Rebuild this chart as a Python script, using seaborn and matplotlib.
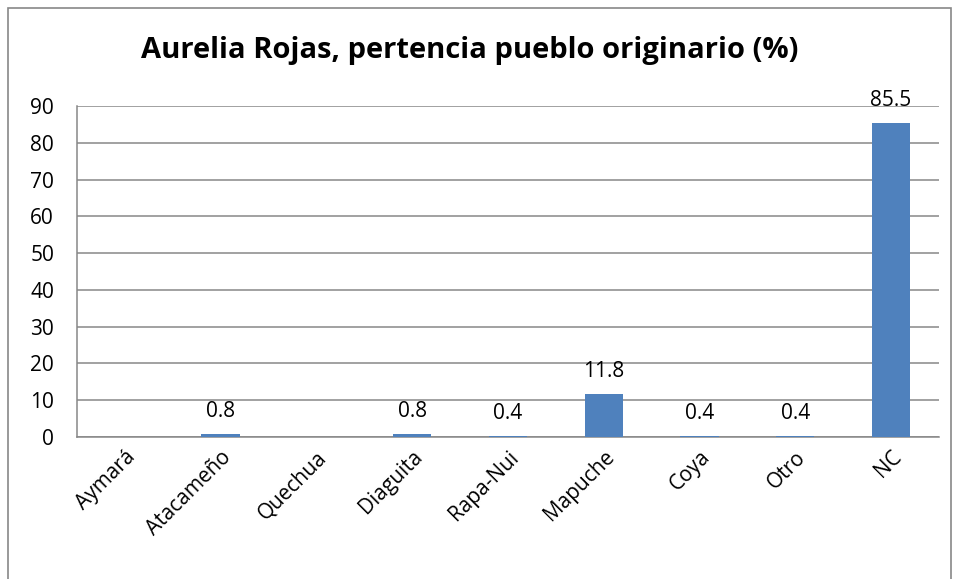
import numpy as np
import pandas as pd
import matplotlib
matplotlib.use("Agg")
import matplotlib.pyplot as plt
import seaborn as sns
from matplotlib.patches import Rectangle

# Data (Aymará and Quechua have no value)
categories = ["Aymará", "Atacameño", "Quechua", "Diaguita", "Rapa-Nui",
              "Mapuche", "Coya", "Otro", "NC"]
values = [np.nan, 0.8, np.nan, 0.8, 0.4, 11.8, 0.4, 0.4, 85.5]
y_ticks = [0, 10, 20, 30, 40, 50, 60, 70, 80, 90]
title = "Aurelia Rojas, pertencia pueblo originario (%)"

df = pd.DataFrame({"pueblo": categories, "pct": values})

sns.set_style("white")
plt.rcParams["font.family"] = ["Open Sans", "DejaVu Sans"]
plt.rcParams["text.color"] = "black"
plt.rcParams["xtick.color"] = "black"
plt.rcParams["ytick.color"] = "black"

fig = plt.figure(figsize=(9.59, 5.79), dpi=100)
ax = fig.add_axes([0.0803, 0.2453, 0.8987, 0.5717])

sns.barplot(data=df, x="pueblo", y="pct", color="#4F81BD", width=0.4,
            saturation=1, linewidth=0, ax=ax, zorder=3)

ax.set_ylim(0, 90)
ax.set_yticks(y_ticks)
ax.set_xlim(-0.5, len(categories) - 0.5)
ax.grid(axis="y", color="#878787", linewidth=1.1, zorder=0)
ax.set_axisbelow(True)

for i, v in enumerate(values):
    if not np.isnan(v):
        ax.annotate(f"{v:.1f}", (i, v), xytext=(0, 12), textcoords="offset points",
                    ha="center", va="baseline", fontsize=15)

# category boundary ticks on x axis
ax.set_xticks(np.arange(-0.5, len(categories), 1.0), minor=True)
ax.tick_params(axis="x", which="minor", length=6.5, color="#878787", width=1.1)
ax.tick_params(axis="x", which="major", length=0, labelsize=15, pad=7)
ax.tick_params(axis="y", length=6.5, color="#878787", width=1.1, labelsize=15, pad=10,
               labelcolor="black")
ax.set_xticks(range(len(categories)))
ax.set_xticklabels(categories, rotation=45, ha="right", rotation_mode="anchor")
ax.set_xlabel("")
ax.set_ylabel("")

for side in ["top", "right"]:
    ax.spines[side].set_visible(False)
for side in ["left", "bottom"]:
    ax.spines[side].set_color("#878787")
    ax.spines[side].set_linewidth(1.1)

fig.text(0.49, 0.913, title, ha="center", va="center", fontsize=21,
         fontweight="bold", family=["Open Sans", "DejaVu Sans"])

# chart border
fig.patches.append(Rectangle((8 / 959, -0.01), 943 / 959, 0.996, transform=fig.transFigure,
                             fill=False, edgecolor="#878787", linewidth=1.2))

plt.savefig("out.png", dpi=100)
plt.close()
